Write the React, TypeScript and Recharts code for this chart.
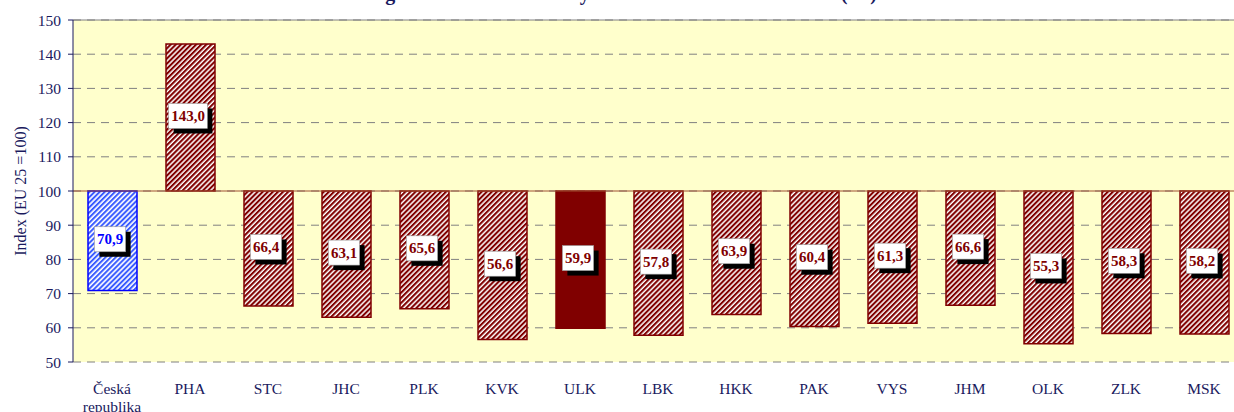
import React from 'react';
import { BarChart, Bar, XAxis, YAxis, CartesianGrid, ReferenceLine, Cell, LabelList } from 'recharts';

const regions = ['Česká republika', 'PHA', 'STC', 'JHC', 'PLK', 'KVK', 'ULK', 'LBK', 'HKK', 'PAK', 'VYS', 'JHM', 'OLK', 'ZLK', 'MSK'];
const indexValues = [70.9, 143.0, 66.4, 63.1, 65.6, 56.6, 59.9, 57.8, 63.9, 60.4, 61.3, 66.6, 55.3, 58.3, 58.2];
const yTicks = [50, 60, 70, 80, 90, 100, 110, 120, 130, 140, 150];
const baseline = 100;

const title = 'Regionální HDP na obyvatele v PPS v roce 2004 (%)';
const NAVY = '#1a1a5e';
const RED = '#800000';
const BLUE = '#0000ff';
const FONT = '"Liberation Serif", "Times New Roman", serif';

// bars float between the value and the EU average (100)
const chartData = regions.map((name, i) => ({
  name,
  value: indexValues[i],
  range: [Math.min(indexValues[i], baseline), Math.max(indexValues[i], baseline)],
}));

const barFill = (i: number) => {
  if (i === 0) return 'url(#hatchBlue)';
  if (regions[i] === 'ULK') return RED;
  return 'url(#hatchRed)';
};

function RegionTick(props: any) {
  const { x, y, payload } = props;
  const words = String(payload.value).split(' ');
  return (
    <text x={x} y={y + 30} textAnchor="middle" fill={NAVY} fontSize={15.5} fontFamily={FONT}>
      {words.map((w, k) => (
        <tspan key={k} x={x} dy={k === 0 ? 0 : 18}>{w}</tspan>
      ))}
    </text>
  );
}

function ValueBox(props: any) {
  const { x, y, width, height, index } = props;
  const v = indexValues[index];
  const txt = v.toFixed(1).replace('.', ',');
  const top = Math.min(y, y + height);
  const cx = x + width / 2;
  const cy = top + Math.abs(height) / 2;
  const digits = txt.length - 1;
  const w = digits * 7.5 + 3.75 + 5;
  const h = 25;
  const bx = cx - w / 2 - 2.5;
  const by = cy - h / 2 - 1.5;
  const color = index === 0 ? BLUE : RED;
  return (
    <g>
      <rect x={bx + 5} y={by + 5} width={w} height={h} fill="#000" />
      <rect x={bx} y={by} width={w} height={h} fill="#fff" stroke="#999" strokeWidth={0.6} />
      <text x={bx + w / 2} y={by + h / 2 + 5} textAnchor="middle" fill={color}
        fontSize={15} fontWeight="bold" fontFamily={FONT}>
        {txt}
      </text>
    </g>
  );
}

export default function App() {
  return (
    <div style={{ position: 'absolute', left: 0, top: 0, width: 1234, height: 412, overflow: 'hidden', background: '#fff' }}>
      <svg width={1234} height={20} style={{ position: 'absolute', left: 0, top: 0 }}>
        <text x={359} y={0} fill={NAVY} fontSize={20} fontWeight="bold" fontFamily={FONT}
          textLength={518} lengthAdjust="spacing">
          {title}
        </text>
      </svg>
      <BarChart width={1248} height={412} data={chartData}
        margin={{ top: 20, right: 5, bottom: 0, left: 0 }} barSize={49}>
        <defs>
          <pattern id="hatchRed" patternUnits="userSpaceOnUse" width={3.6} height={3.6} patternTransform="rotate(45)">
            <rect width={3.6} height={3.6} fill="#fff" />
            <rect width={2.1} height={3.6} fill={RED} />
          </pattern>
          <pattern id="hatchBlue" patternUnits="userSpaceOnUse" width={3.6} height={3.6} patternTransform="rotate(45)">
            <rect width={3.6} height={3.6} fill="#fff" />
            <rect width={2} height={3.6} fill="#3a5cff" />
          </pattern>
        </defs>
        <CartesianGrid vertical={false} stroke="#808080" strokeDasharray="8 6" fill="#ffffcc" fillOpacity={1} />
        <XAxis dataKey="name" axisLine={false} tickLine={false} tickSize={0} tick={<RegionTick />} interval={0} height={50} />
        <YAxis domain={[50, 150]} ticks={yTicks} width={73} tickSize={5} tickMargin={7}
          stroke={NAVY} tick={{ fill: NAVY, fontSize: 15.5, fontFamily: FONT }}
          label={{ value: 'Index (EU 25 =100)', angle: -90, position: 'insideLeft', offset: 20,
            style: { textAnchor: 'middle', fill: NAVY, fontSize: 16, fontFamily: FONT } }} />
        <ReferenceLine y={150} stroke="#808080" />
        <ReferenceLine y={baseline} stroke="#a05030" strokeWidth={1} />
        <Bar dataKey="range" isAnimationActive={false} strokeWidth={1.5}>
          {chartData.map((d, i) => (
            <Cell key={d.name} fill={barFill(i)} stroke={i === 0 ? BLUE : RED} />
          ))}
          <LabelList dataKey="range" content={<ValueBox />} />
        </Bar>
      </BarChart>
    </div>
  );
}
